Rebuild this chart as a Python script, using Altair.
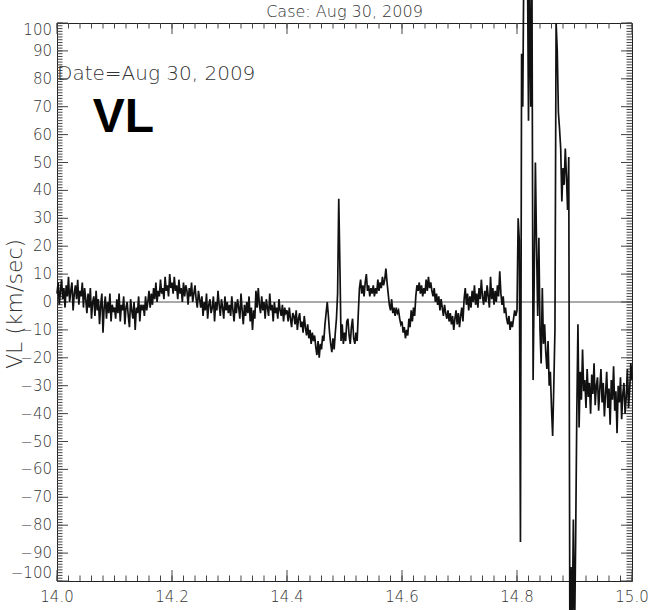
import altair as alt
import pandas as pd

# ---- series values (km/sec), sampled every 0.002 from 14.000 to 15.000 ----
r0 = [3, 7, -1, 4, 8, 1, 5, -2, 6, 2, 9, 0, 4, 7, -3, 3, 6, 1, 8, -1, 4, 2, 7, -2, 5]
r1 = [1, -4, 3, -2, 5, -6, 0, 2, -5, 4, -3, 1, -8, -1, 3, -11, -2, 2, -6, 0, -4, 3, -7, -1, -3]
r2 = [-2, -6, 1, -4, 3, -7, -1, -3, 2, -8, -2, 0, -5, -9, 1, -3, -6, 0, -10, -2, -4, 2, -7, -1, -3]
r3 = [-1, -5, 2, -3, 0, 4, -2, 3, -1, 5, 1, 7, 0, 4, 2, 8, 3, 5, 1, 9, 4, 6, 2, 10, 5]
r4 = [7, 3, 9, 4, 6, 1, 8, 3, 5, 0, 7, 2, 6, 4, -1, 5, 2, 7, 0, 3, 6, 1, -2, 4, 1]
r5 = [-2, 2, -5, 0, -3, 3, -6, -1, 1, -4, -2, 2, -7, 0, -3, 4, -1, -5, 1, -2, -6, 2, -3, 0, -4]
r6 = [-1, -5, 2, -3, -7, 0, -4, 1, -2, -6, 3, -3, -8, -1, -5, 0, -4, 2, -7, -2, -10, -3, -6, 4, -2]
r7 = [5, -1, -4, 2, -3, 0, -6, 1, -2, -5, 3, -3, -1, -7, 0, -4, -2, -6, 1, -3, -5, -1, -7, -2, -4]
r8 = [-3, -7, -2, -6, -9, -4, -5, -8, -3, -10, -6, -4, -9, -7, -11, -5, -9, -12, -8, -13, -10, -15, -11, -14, -12]
r9 = [-16, -19, -14, -20, -15, -17, -12, -14, -8, -4, 0, -5, -11, -15, -18, -13, -17, -11, -6, 3, 37, 13, -14, -8, -15]
r10 = [-11, -14, -7, -6, -12, -15, -9, -6, -13, -15, -11, -14, -4, 5, 8, 3, 6, 2, 7, 10, 4, 6, 2, 5, 3]
r11 = [6, 2, 5, 3, 8, 4, 7, 5, 9, 6, 8, 12, 7, 3, -1, -3, 1, -4, -2, -5, -2, -4, -3, -6, -8]
r12 = [-7, -11, -9, -13, -10, -12, -6, -9, -3, -7, -2, -5, 2, 6, 4, 7, 3, 6, 2, 5, 3, 8, 4, 9, 5]
r13 = [7, 4, 2, 5, 0, 3, -1, 2, -3, 1, -2, -5, -1, -4, -6, -3, -7, -4, -8, -5, -10, -6, -3, -8, -4]
r14 = [-9, -5, -2, -7, 1, 5, -1, 3, -3, 2, -2, 4, 0, 6, -1, 3, -2, 5, 1, 8, 2, -1, 4, 0, 6]
r15 = [2, -2, 9, 1, 5, -1, 4, 0, 6, 2, 11, 3, -1, 2, -4, -2, -6, -8, -5, -10, -7, -9, -6, -3, -5]
r16 = [-3, 30, 22, -86, 89, 70, 125, 130, 120, 128, 65, 120, 70, 115, -28, 10, 50, 20, -5, 23, -10, -22, 5, -15, -8]
r17 = [-18, -24, -14, -30, -25, -38, -48, -30, -10, 100, 90, 68, 62, 55, 36, 48, 42, 55, 45, 33, 52, -125, -95, -118, -78]
r18 = [-122, -85, -40, -8, -45, -25, -35, -17, -32, -28, -38, -24, -34, -29, -40, -26, -33, -22, -37, -30, -27, -39, -31, -24, -36]
r19 = [-29, -41, -33, -25, -38, -31, -44, -28, -35, -23, -39, -32, -47, -30, -36, -27, -42, -33, -29, -40, -34, -24, -38, -31, -22]
r_last = [-28]

values = (r0 + r1 + r2 + r3 + r4 + r5 + r6 + r7 + r8 + r9 + r10 + r11 + r12 + r13
          + r14 + r15 + r16 + r17 + r18 + r19 + r_last)
t_start, t_step = 14.0, 0.002
times = [round(t_start + t_step * i, 3) for i in range(len(values))]

# ---- tick values and tick labels ----
x_major = [14.0, 14.2, 14.4, 14.6, 14.8, 15.0]
x_labels = ["14.0", "14.2", "14.4", "14.6", "14.8", "15.0"]
x_minor = [round(14.0 + 0.02 * i, 2) for i in range(51)]
y_major = list(range(-100, 101, 10))
y_labels = [("\u2212" + str(-v)) if v < 0 else str(v) for v in y_major]
y_minor = list(range(-100, 101, 1))
zero_level = [0]

# ---- texts ----
title_text = ["Case: Aug 30, 2009"]
title_pos = ([14.5], [102.2])
date_text = ["Date=Aug 30, 2009"]
date_pos = ([14.0], [79.5])
tag_text = ["VL"]
tag_pos = ([14.062], [61.0])
ylabel_text = ["VL (km/sec)"]
ylabel_pos = [-0.7]

W, H = 575, 558
FONT = "DejaVu Sans"
TXT = "#333333"
TICK = "#444444"

xs = alt.Scale(domain=[14.0, 15.0], nice=False, zero=False)
ys = alt.Scale(domain=[-100, 100], nice=False, zero=False)

df = pd.DataFrame({"t": times, "v": values})

line = alt.Chart(df).mark_line(color="#111111", strokeWidth=1.7, clip=False).encode(
    x=alt.X("t:Q", scale=xs, axis=None),
    y=alt.Y("v:Q", scale=ys, axis=None),
)

ydf_minor = pd.DataFrame({"v": y_minor})
ydf_major = pd.DataFrame({"v": y_major})
xdf_minor = pd.DataFrame({"t": x_minor})
xdf_major = pd.DataFrame({"t": x_major})

def yticks(d, x0, x1):
    return alt.Chart(d).mark_rule(color=TICK, strokeWidth=1).encode(
        y=alt.Y("v:Q", scale=ys, axis=None), x=alt.value(x0), x2=alt.value(x1))

def xticks(d, y0, y1):
    return alt.Chart(d).mark_rule(color=TICK, strokeWidth=1).encode(
        x=alt.X("t:Q", scale=xs, axis=None), y=alt.value(y0), y2=alt.value(y1))

MINOR, MAJOR = 5.5, 11
tick_layers = [
    yticks(ydf_minor, 0, MINOR), yticks(ydf_major, 0, MAJOR),
    yticks(ydf_minor, W, W - MINOR), yticks(ydf_major, W, W - MAJOR),
    xticks(xdf_minor, 0, MINOR), xticks(xdf_major, 0, MAJOR),
    xticks(xdf_minor, H, H - MINOR), xticks(xdf_major, H, H - MAJOR),
]

# ---- tick labels (placed through the scales) ----
ylab_all = pd.DataFrame({"v": y_major, "label": y_labels})
LBL = dict(font=FONT, fontSize=15, fontWeight=200, color=TXT)

def ylabels(d, baseline):
    return alt.Chart(d).mark_text(align="right", baseline=baseline, **LBL).encode(
        x=alt.value(-5), y=alt.Y("v:Q", scale=ys, axis=None), text="label:N")

ylab_mid = ylabels(ylab_all.iloc[1:-1], "middle")
ylab_bot = ylabels(ylab_all.iloc[:1], "bottom")
ylab_top = ylabels(ylab_all.iloc[-1:], "top")

xlab = alt.Chart(pd.DataFrame({"t": x_major, "label": x_labels})).mark_text(
    align="center", baseline="top", **LBL).encode(
    x=alt.X("t:Q", scale=xs, axis=None), y=alt.value(H + 9), text="label:N")

zero = alt.Chart(pd.DataFrame({"v": zero_level})).mark_rule(
    color="#555555", strokeWidth=1).encode(y=alt.Y("v:Q", scale=ys, axis=None))

def text_layer(txt, pos, **kw):
    d = pd.DataFrame({"t": pos[0], "v": pos[1], "label": txt})
    return alt.Chart(d).mark_text(**kw).encode(
        x=alt.X("t:Q", scale=xs, axis=None),
        y=alt.Y("v:Q", scale=ys, axis=None),
        text="label:N")

title = text_layer(title_text, title_pos, align="center", baseline="alphabetic",
                   font=FONT, fontSize=16, fontWeight=200, color=TXT)
date = text_layer(date_text, date_pos, align="left", baseline="alphabetic",
                  font=FONT, fontSize=20, fontWeight=200, color=TXT)
tag = text_layer(tag_text, tag_pos, align="left", baseline="alphabetic",
                 font="Liberation Sans", fontSize=48, fontWeight="bold", color="#000000")

ylab_df = pd.DataFrame({"v": ylabel_pos, "label": ylabel_text})
ylabel = alt.Chart(ylab_df).mark_text(
    align="center", baseline="alphabetic", angle=270, font=FONT, fontSize=22,
    fontWeight=200, color=TXT).encode(
    x=alt.value(-35), y=alt.Y("v:Q", scale=ys, axis=None), text="label:N")

chart = alt.layer(
    ylabel, zero, *tick_layers, line, ylab_mid, ylab_bot, ylab_top, xlab,
    title, date, tag
).properties(
    width=W, height=H,
    autosize=alt.AutoSizeParams(type="none"),
    padding={"left": 57, "top": 23, "right": 32, "bottom": 29},
    background="white",
).configure_view(stroke="#222222", strokeWidth=1)

chart.save("out.html", embed_options={"renderer": "svg", "actions": False})
